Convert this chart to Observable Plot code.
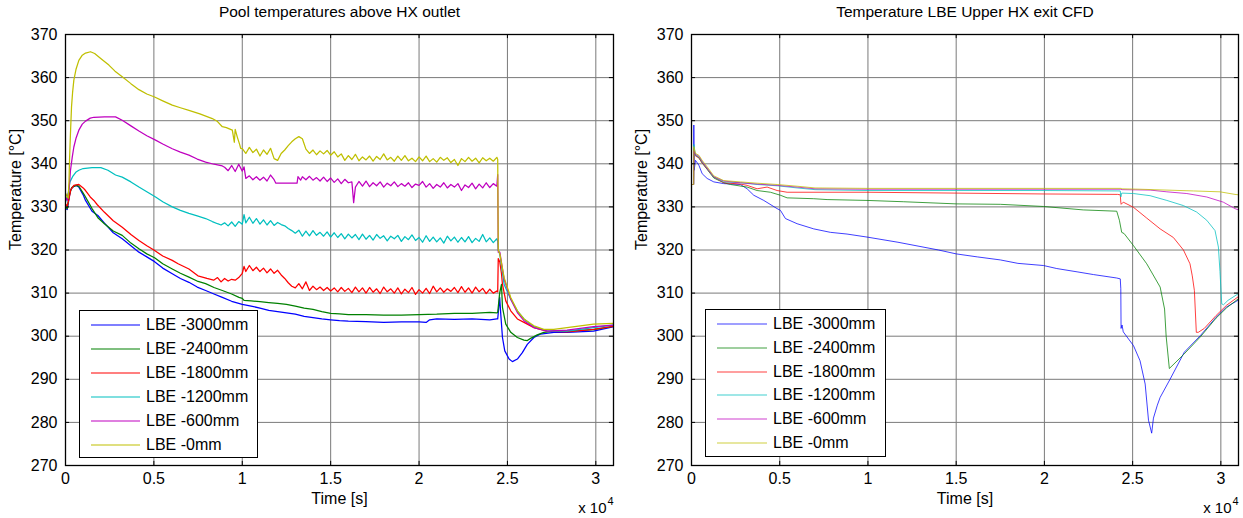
<!DOCTYPE html>
<html>
<head>
<meta charset="utf-8">
<script src="https://cdn.jsdelivr.net/npm/d3@7"></script>
<script src="https://cdn.jsdelivr.net/npm/@observablehq/plot@0.6"></script>
<style>
  html, body { margin: 0; padding: 0; background: #fff; }
  #wrap { position: relative; width: 1243px; height: 518px; background: #fff; overflow: hidden;
          font-family: "Liberation Sans", Arial, sans-serif; }
  .legend { position: absolute; background: #fff; border: 1.5px solid #000; box-sizing: border-box; }
  .legend .item { position: absolute; left: 0; height: 20px; display: flex; align-items: center;
                  font-size: 16px; color: #000; white-space: nowrap; }
  .legend .item span.sw { display: inline-block; height: 0; }
</style>
</head>
<body>
<div id="wrap"></div>
<script>
// ---------- labels / ticks ----------
const titles = ["Pool temperatures above HX outlet", "Temperature LBE Upper HX exit CFD"];
const xLabel = "Time [s]";
const yLabel = "Temperature [°C]";
const xTicks = [0, 5000, 10000, 15000, 20000, 25000, 30000];
const yTicks = [270, 280, 290, 300, 310, 320, 330, 340, 350, 360, 370];
const seriesNames = ["LBE -3000mm", "LBE -2400mm", "LBE -1800mm", "LBE -1200mm", "LBE -600mm", "LBE -0mm"];
const seriesColors = ["#0000ff", "#008000", "#ff0000", "#00bfbf", "#bf00bf", "#bfbf00"];

// ---------- left panel: measured pool temperatures [time s, T °C] ----------
const left3000 = [[0,329.6],[100,329.4],[200,332],[283,333.8],[400,334.6],[600,335],[755,334.6],[1000,332.8],[1133,331.5],[1500,329],[1831,328],[2191,326.3],[2700,324],[3209,322.6],[3700,321],[4153,319.5],[4600,318.4],[5040,317.3],[5500,315.8],[6040,314.5],[6500,313.4],[6983,312.5],[7450,311.4],[7927,310.6],[8400,309.8],[8871,309],[9400,308.1],[10000,307.4],[10500,307],[11000,306.5],[11500,306],[12000,305.7],[12500,305.4],[13000,305.1],[13500,304.6],[14000,304.3],[14500,304],[15000,303.8],[15500,303.6],[16000,303.5],[17000,303.4],[18000,303.2],[19000,303.3],[20000,303.3],[20400,303.2],[20600,303.8],[21000,304],[22000,303.9],[23000,304],[24000,303.8],[24400,304],[24450,304],[24560,309],[24625,305],[24719,299.7],[24850,296.6],[25094,294.7],[25281,294.1],[25562,294.7],[25843,296.2],[26124,298.1],[26498,299.7],[26873,300.5],[27622,300.9],[28371,300.9],[29869,301.2],[31000,302.2]];

const left2400 = [[0,330],[100,329.6],[200,332.5],[350,334.5],[600,335],[755,334.8],[1000,333.2],[1133,332.3],[1500,329.6],[1831,327.5],[2200,326.1],[2700,324.4],[3209,323.4],[3700,321.6],[4153,320.3],[4600,319.1],[5040,318.2],[5500,316.8],[6040,315.6],[6500,314.6],[6983,313.7],[7500,312.7],[7927,312.2],[8400,311.3],[8871,310.6],[9400,309.8],[9814,309],[10000,308.8],[10100,308.3],[10500,308.2],[11000,308.0],[11500,307.8],[12000,307.6],[12500,307.4],[13000,307],[13500,306.5],[14000,306.2],[14500,305.7],[15000,305.3],[15500,305.2],[16000,305.0],[17000,305],[18000,304.9],[19000,304.9],[20000,305],[21000,305.1],[22000,305.3],[23000,305.3],[24000,305.5],[24400,305.4],[24450,305.5],[24560,310],[24663,312],[24719,306.7],[24906,302.8],[25187,300.9],[25562,299.7],[25936,299.1],[26124,299.0],[26311,299.5],[26685,300.3],[27060,300.9],[27622,301.2],[28371,301.2],[29869,301.5],[31000,302.3]];

const left1800 = [[0,330.7],[100,330.2],[200,331.9],[300,334],[472,335],[755,335.2],[1000,334.4],[1133,333.8],[1400,332.3],[1604,331.5],[1800,330.5],[2191,328.8],[2700,326.8],[3209,325.3],[3700,323.6],[4153,322.2],[4600,321],[5000,320],[5500,318.6],[6040,317.6],[6370,316.8],[6983,315.6],[7490,314],[8000,313.4],[8380,313],[8600,313.6],[8800,312.6],[9000,313.4],[9200,312.8],[9400,313.2],[9600,313.0],[9800,313.6],[10000,314.6],[10100,316.2],[10200,315.0],[10400,316.4],[10600,315.2],[10800,316.0],[11000,315.0],[11200,315.8],[11400,314.7],[11600,315.6],[11800,314.6],[12000,315.3],[12200,314.2],[12400,313.4],[12600,312.4],[12800,311.6],[13000,311.2],[13200,312.2],[13400,311.0],[13600,312.6],[13800,310.6],[14000,311.6],[14200,310.8],[14400,311.4],[14600,310.6],[14800,311.3],[15000,310.5],[15200,311.2],[15400,310.3],[15600,311.3],[15800,310.4],[16000,311.1],[16200,310.1],[16400,311.4],[16600,310.3],[16800,311.2],[17000,310.0],[17200,311.3],[17400,310.2],[17600,311.0],[17800,309.9],[18000,311.4],[18200,310.3],[18400,311.0],[18600,310.0],[18800,311.2],[19000,309.8],[19200,310.9],[19400,310.1],[19600,311.3],[19800,309.7],[20000,310.8],[20200,310.0],[20400,311.1],[20600,309.9],[20800,311.6],[21000,310.3],[21200,311.2],[21400,310.2],[21600,311.0],[21800,310.4],[22000,311.3],[22200,310.1],[22400,311.5],[22600,310.2],[22800,311.2],[23000,310.0],[23200,311.4],[23400,310.3],[23600,311.1],[23800,309.9],[24000,310.9],[24200,310.0],[24400,310.5],[24450,310.3],[24480,318],[24569,317.2],[24663,314.5],[24719,312],[24906,308.2],[25187,305.9],[25562,304],[25936,303.2],[26498,302],[27247,301.2],[28371,301],[29869,301.6],[31000,302.3]];

const left1200 = [[0,331.1],[150,333],[250,335.8],[400,337],[600,338.1],[755,338.5],[1000,338.9],[1500,339.1],[2000,339.1],[2400,338.5],[2831,337.4],[3209,336.9],[3700,335.8],[4153,334.6],[4600,333.5],[5096,332.3],[5500,331.2],[6040,330],[6500,329.2],[6983,328.5],[7450,327.9],[7927,327.3],[8305,326.6],[8600,326.1],[8800,325.8],[9000,326.3],[9200,325.6],[9400,326.5],[9600,325.5],[9800,326.6],[10000,326.0],[10100,328.2],[10200,326.3],[10400,327.6],[10600,326.2],[10800,327.3],[11000,326.0],[11200,327.0],[11400,325.8],[11600,326.8],[11800,325.7],[12000,326.4],[12200,325.9],[12400,325.6],[12600,325.0],[12800,324.5],[13000,323.9],[13200,324.6],[13400,323.2],[13600,324.4],[13800,323.3],[14000,324.5],[14200,323.4],[14400,324.1],[14600,323.2],[14800,324.2],[15000,323.0],[15200,324.0],[15400,322.9],[15600,323.8],[15800,322.6],[16000,323.7],[16200,322.8],[16400,323.6],[16600,322.4],[16800,323.7],[17000,322.5],[17200,323.4],[17400,322.3],[17600,323.6],[17800,322.7],[18000,323.3],[18200,322.1],[18400,323.2],[18600,322.6],[18800,323.4],[19000,322.0],[19200,323.1],[19400,322.4],[19600,323.5],[19800,322.2],[20000,322.9],[20200,321.8],[20400,323.3],[20600,322.0],[20800,323.0],[21000,321.9],[21200,322.8],[21400,321.6],[21600,323.2],[21800,322.1],[22000,323.0],[22200,321.8],[22400,322.9],[22600,321.9],[22800,323.1],[23000,321.7],[23200,322.7],[23400,322.0],[23600,323.6],[23800,321.9],[24000,322.8],[24200,321.7],[24400,322.6],[24450,322],[24480,320],[24569,319],[24813,312],[25187,308.6],[25562,305.9],[25936,304],[26498,302.2],[27247,301.2],[28371,301.2],[29869,302],[31000,302.6]];

const left600 = [[0,332.3],[100,331.5],[200,334],[283,338.5],[380,341.5],[472,343.9],[600,346],[755,347.8],[950,349.2],[1133,349.9],[1400,350.6],[1604,350.8],[2200,350.9],[2831,350.9],[3209,350.1],[3700,348.8],[4153,347.6],[4600,346.5],[5096,345.5],[5500,344.6],[6040,343.5],[6500,342.7],[6983,342],[7450,341.1],[7927,340.4],[8400,339.9],[8871,339.5],[9000,339.2],[9200,338.4],[9400,339.6],[9600,338.2],[9800,339.9],[10000,338.3],[10100,339.3],[10200,336.6],[10400,337.2],[10600,336.3],[10800,337.0],[11000,336.2],[11200,336.9],[11400,336.0],[11600,337.4],[11800,336.3],[11900,335.5],[13100,335.5],[13150,337],[13300,336.2],[13400,337.0],[13600,336.3],[13800,337.1],[14000,336.2],[14200,336.8],[14400,336.0],[14600,336.9],[14800,335.9],[15000,336.7],[15200,335.7],[15400,336.5],[15600,335.4],[15800,336.4],[16000,335.6],[16200,335.8],[16300,331.0],[16400,334.6],[16600,335.9],[16800,334.8],[17000,336.0],[17200,334.7],[17400,335.6],[17600,334.9],[17800,335.8],[18000,334.6],[18200,335.5],[18400,334.9],[18600,335.8],[18800,334.7],[19000,335.4],[19200,334.8],[19400,335.6],[19600,334.5],[19800,335.3],[20000,335.0],[20200,335.9],[20400,334.6],[20600,335.4],[20800,334.3],[21000,335.2],[21200,334.6],[21400,335.6],[21600,334.4],[21800,335.2],[22000,334.6],[22200,335.4],[22400,333.8],[22600,335.1],[22800,334.5],[23000,335.5],[23200,334.2],[23400,335.3],[23600,334.4],[23800,335.6],[24000,334.5],[24200,335.4],[24400,334.8],[24450,337.5],[24480,319.5],[24569,319.5],[24813,313.2],[25187,308.6],[25562,305.5],[25936,303.6],[26498,302],[27247,301.2],[28371,301.4],[29869,302.2],[31000,302.6]];

const left0 = [[0,333.2],[80,332.5],[150,332],[200,336],[227,340.8],[280,347],[340,353.2],[400,356.5],[472,359.4],[600,362],[755,364],[950,365.2],[1133,365.7],[1416,366],[1650,365.6],[1888,364.8],[2150,363.9],[2454,362.9],[2800,361.5],[3209,360.2],[3700,358.6],[4153,357.2],[4600,356.2],[5040,355.5],[5500,354.6],[6040,353.6],[6500,353],[6983,352.4],[7600,351.6],[8305,350.5],[8600,349.8],[8871,348.6],[9100,348.4],[9437,347.8],[9550,345],[9600,348],[9720,346.2],[9850,344.5],[9909,343.6],[10000,343.5],[10200,342.4],[10400,343.8],[10600,342.6],[10800,343.4],[11000,341.8],[11200,343.2],[11400,342.2],[11600,343.6],[11800,341.2],[12000,340.8],[12200,342.4],[12400,343.2],[12600,344.2],[12800,345.1],[13000,345.8],[13200,346.3],[13400,345.8],[13600,343.4],[13800,342.4],[14000,343.2],[14200,342.1],[14400,343.0],[14600,342.3],[14800,343.1],[15000,342.0],[15200,342.8],[15400,341.6],[15600,342.3],[15800,340.8],[16000,341.9],[16200,341.0],[16400,342.2],[16600,340.7],[16800,341.6],[17000,340.9],[17200,341.8],[17400,340.6],[17600,341.7],[17800,341.0],[18000,342.3],[18200,340.9],[18400,341.5],[18600,340.6],[18800,341.8],[19000,340.8],[19200,341.9],[19400,340.7],[19600,341.3],[19800,340.5],[20000,341.6],[20200,340.7],[20400,341.8],[20600,340.5],[20800,341.2],[21000,340.4],[21200,341.5],[21400,340.8],[21600,341.4],[21800,340.3],[22000,341.0],[22200,339.6],[22400,341.2],[22600,340.5],[22800,341.5],[23000,340.6],[23200,341.3],[23400,340.2],[23600,341.4],[23800,340.7],[24000,341.3],[24200,340.6],[24400,341.5],[24450,341],[24480,320],[24569,319.1],[24813,313.6],[25187,309],[25562,305.9],[25936,304],[26498,302.4],[27060,301.6],[27622,301.6],[28371,302],[29120,302.4],[29869,302.8],[31000,303]];

// ---------- right panel: CFD results [time s, T °C] ----------
const right3000 = [[0,335.2],[120,335.2],[132,349],[150,338.5],[226,340.8],[415,339.7],[604,337.7],[887,336.6],[1264,335.8],[1831,335.4],[2775,335.2],[3152,334.2],[3529,332.7],[4096,331.5],[4851,329.6],[5040,329.2],[5323,327.3],[5984,326.1],[6928,324.9],[7871,324.1],[8815,323.7],[9948,323],[11700,321.8],[14000,320],[15000,319.1],[16200,318.4],[17500,317.7],[18500,316.9],[19950,316.4],[20700,315.7],[21900,314.9],[22780,314.3],[24100,313.5],[24300,313.3],[24330,311],[24345,301.8],[24400,302.6],[24470,301],[25050,297.8],[25420,294.3],[25710,288.9],[25900,280.5],[26080,277.5],[26180,281],[26400,284],[26560,285.8],[27120,290],[27930,296.3],[28830,300.1],[29730,304.4],[30330,306.8],[31000,308.4]];

const right2400 = [[0,335.2],[120,335.2],[130,343],[226,342],[415,341.4],[604,340.2],[887,338.7],[1264,336.7],[1831,335.6],[2208,335.2],[3152,334.6],[3718,333.8],[4473,333.4],[5040,332.7],[5418,332.1],[6928,331.9],[7683,331.7],[9948,331.5],[12000,331.2],[15000,330.7],[17500,330.6],[19950,330.1],[22200,329.3],[24100,329],[24250,326.9],[24380,324.1],[24520,323.8],[25050,321],[25800,316.8],[26560,311.4],[26810,306.3],[26900,300],[27080,292.5],[27900,295.8],[28830,299.8],[29730,304.2],[30330,306.6],[31000,308.7]];

const right1800 = [[0,335.2],[120,335.2],[132,343.5],[226,341.8],[415,341.4],[604,340.2],[887,338.8],[1264,336.9],[1831,335.6],[2775,335.3],[3152,335],[3718,334.2],[4285,334.6],[4851,333.8],[5418,333.4],[9948,333.4],[15000,333.2],[20000,333],[24150,332.9],[24300,332.8],[24330,331.1],[24350,330.6],[24470,331.1],[25050,329.9],[25800,327.4],[26560,324.9],[27310,322.9],[27880,320],[28250,316.8],[28380,314],[28500,310.6],[28610,300.9],[28720,300.9],[29060,301.8],[29730,304.8],[30330,307.2],[31000,309.2]];

const right1200 = [[0,335.2],[120,335.2],[132,344.5],[226,342],[415,341.6],[604,340.4],[887,338.9],[1264,336.9],[1831,335.8],[2775,335.6],[3718,335.2],[4851,334.9],[5984,334.4],[7000,334],[9948,333.8],[15000,333.8],[20000,333.8],[24300,333.7],[24330,332.3],[24380,333.2],[25050,333.1],[25990,332.6],[26940,331.5],[27880,330.3],[28630,328.8],[29200,326.9],[29670,324.5],[29860,320.7],[29950,315],[30050,307.5],[30150,307.3],[30400,308.3],[31000,309.9]];

const right600 = [[0,335.2],[120,335.2],[132,343],[226,342.2],[415,341.8],[604,340.6],[887,339],[1264,337],[1831,336],[2775,335.6],[3718,335.3],[4851,335],[5984,334.6],[7000,334.2],[9948,334.1],[20000,334.1],[24300,334.1],[24400,334],[25990,333.9],[26940,333.5],[28070,333.1],[29200,332.3],[30140,331.1],[30800,329.6],[31000,329.3]];

const right0 = [[0,335.2],[120,335.2],[130,344],[226,342.4],[415,342],[604,340.8],[887,339.3],[1264,337.2],[1831,336.1],[2775,335.8],[3718,335.5],[4851,335.2],[5984,334.8],[7000,334.4],[9948,334.3],[20000,334.3],[24350,334.3],[24400,334.2],[25420,334.1],[28450,333.7],[29950,333.5],[30800,332.9],[31000,332.8]];

const leftSeries = [left3000, left2400, left1800, left1200, left600, left0];
const rightSeries = [right3000, right2400, right1800, right1200, right600, right0];

// ---------- drawing ----------
const FONT = '"Liberation Sans", Arial, Helvetica, sans-serif';

function panel({title, series, width, marginLeft, marginRight, lineOpacity, lineWidth}) {
  const lines = series.map((s, i) =>
    Plot.line(s, {x: d => d[0], y: d => d[1], stroke: seriesColors[i], strokeWidth: lineWidth,
                  strokeOpacity: lineOpacity, clip: true}));
  return Plot.plot({
    width, height: 518,
    marginTop: 34, marginBottom: 53, marginLeft, marginRight,
    x: {domain: [0, 31000]},
    y: {domain: [270, 370]},
    style: {fontFamily: FONT, fontSize: "16px", color: "#000", background: "transparent", overflow: "visible"},
    marks: [
      Plot.gridX(xTicks, {stroke: "#7a7a7a", strokeOpacity: 1, strokeWidth: 1}),
      Plot.gridY(yTicks, {stroke: "#7a7a7a", strokeOpacity: 1, strokeWidth: 1}),
      ...lines,
      // inward MATLAB-style ticks on all four sides
      Plot.ruleX(xTicks, {x: d => d, y1: 270, y2: 270.95, stroke: "#000"}),
      Plot.ruleX(xTicks, {x: d => d, y1: 369.05, y2: 370, stroke: "#000"}),
      Plot.ruleY(yTicks, {y: d => d, x1: 0, x2: 230, stroke: "#000"}),
      Plot.ruleY(yTicks, {y: d => d, x1: 30770, x2: 31000, stroke: "#000"}),
      Plot.frame({stroke: "#000", strokeWidth: 1.3}),
      Plot.axisX(xTicks, {tickSize: 0, tickPadding: 7, tickFormat: d => String(d / 1e4), label: null, fontSize: 16}),
      Plot.axisY(yTicks, {tickSize: 0, tickPadding: 8, tickFormat: d => String(d), label: null, fontSize: 16}),
      Plot.text([title], {text: d => d, frameAnchor: "top", dy: -22, lineAnchor: "middle", fontSize: 15.5}),
      Plot.text([xLabel], {text: d => d, frameAnchor: "bottom", dy: 33, lineAnchor: "middle", fontSize: 16}),
      Plot.text([yLabel], {text: d => d, frameAnchor: "left", dx: -50, rotate: -90, lineAnchor: "middle", fontSize: 16}),
      Plot.text(["x 10"], {text: d => d, frameAnchor: "bottom-right", dx: -7, dy: 43, textAnchor: "end", lineAnchor: "middle", fontSize: 15}),
      Plot.text(["4"], {text: d => d, frameAnchor: "bottom-right", dx: -6, dy: 36, textAnchor: "start", lineAnchor: "middle", fontSize: 11})
    ]
  });
}

const wrap = document.getElementById("wrap");

const leftSvg = panel({title: titles[0], series: leftSeries, width: 621, marginLeft: 65, marginRight: 8, lineOpacity: 1, lineWidth: 1.25});
leftSvg.style.position = "absolute"; leftSvg.style.left = "0px"; leftSvg.style.top = "0px";
wrap.appendChild(leftSvg);

const rightSvg = panel({title: titles[1], series: rightSeries, width: 622, marginLeft: 70, marginRight: 5, lineOpacity: 0.75, lineWidth: 1});
rightSvg.style.position = "absolute"; rightSvg.style.left = "621px"; rightSvg.style.top = "0px";
wrap.appendChild(rightSvg);

function legend({left, top, width, height, lineX0, lineX1, textX, firstY, step, lineWidth, opacity}) {
  const box = document.createElement("div");
  box.className = "legend";
  Object.assign(box.style, {left: left + "px", top: top + "px", width: width + "px", height: height + "px"});
  seriesNames.forEach((name, i) => {
    const item = document.createElement("div");
    item.className = "item";
    item.style.top = (firstY + i * step - 10 - top) + "px";
    const sw = document.createElement("span");
    sw.className = "sw";
    Object.assign(sw.style, {
      position: "absolute", left: (lineX0 - left) + "px", top: "10px", width: (lineX1 - lineX0) + "px",
      borderTop: lineWidth + "px solid " + seriesColors[i], opacity: opacity, transform: "translateY(-50%)"
    });
    const tx = document.createElement("span");
    tx.textContent = name;
    Object.assign(tx.style, {position: "absolute", left: (textX - left) + "px", top: "0px", lineHeight: "20px"});
    item.appendChild(sw); item.appendChild(tx);
    box.appendChild(item);
  });
  wrap.appendChild(box);
}

legend({left: 79, top: 310, width: 179, height: 148, lineX0: 90, lineX1: 139, textX: 145, firstY: 324, step: 23.9, lineWidth: 1.6, opacity: 1});
legend({left: 705, top: 309, width: 181, height: 148, lineX0: 716, lineX1: 766, textX: 772, firstY: 323, step: 23.8, lineWidth: 1.2, opacity: 0.75});
</script>
</body>
</html>
